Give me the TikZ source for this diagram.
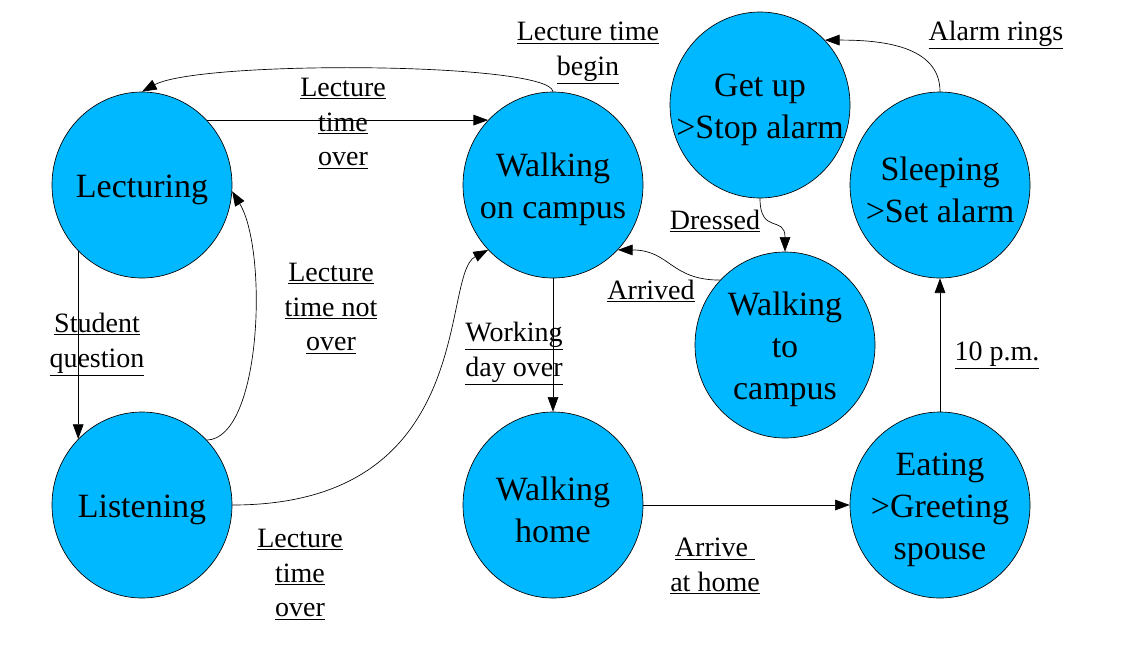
\documentclass[tikz,border=0pt]{standalone}
\usepackage{fontspec}
\setmainfont{Liberation Serif}
\usetikzlibrary{shapes,arrows.meta}
\definecolor{statecyan}{RGB}{0,184,255}

\begin{document}
\begin{tikzpicture}[
  x=0.75pt, y=-0.75pt,
  node distance=308.25pt
]

  \path[use as bounding box] (0,0) rectangle (1123,647);

  \tikzstyle{statenode}=[draw,ellipse,fill=statecyan,line width=0.5pt,minimum width=135pt,minimum height=139.5pt,inner sep=0pt]
  \tikzstyle{statetext}=[align=center,inner sep=0pt,yshift=-3.5pt,font=\fontsize{25.5pt}{31.5pt}\selectfont]
  \tikzstyle{trlab}=[align=center,inner sep=0pt,yshift=-2.5pt,font=\fontsize{21pt}{26pt}\selectfont]
  \tikzstyle{pointer}=[draw,line width=0.5pt,->,>={Triangle[length=11pt,width=8pt]}]

  % states
  \node[statenode] (lect) at (142,185) {};
  \node[statenode] (wcamp) [right of=lect] {};
  \node[statenode,node distance=240pt] (listen) [below of=lect] {};
  \node[statenode,node distance=240pt] (whome) [below of=wcamp] {};
  \node[statenode,node distance=290.25pt] (eat) [right of=whome] {};
  \node[statenode,node distance=240pt] (sleep) [above of=eat] {};
  \node[statenode] (getup) at (760,105) {};
  \node[statenode] (wtocamp) at (785,345) {};

  % state texts
  \node[statetext] (lecttxt) at (lect) {Lecturing};
  \node[statetext] (wcamptxt) at (wcamp) {Walking\\on campus};
  \node[statetext] (listentxt) at (listen) {Listening};
  \node[statetext] (whometxt) at (whome) {Walking\\home};
  \node[statetext] (eattxt) at (eat) {Eating\\>Greeting\\spouse};
  \node[statetext] (sleeptxt) at (sleep) {Sleeping\\>Set alarm};
  \node[statetext] (getuptxt) at (getup) {Get up\\>Stop alarm};
  \node[statetext] (wtocamptxt) at (wtocamp) {Walking\\to\\campus};

  % transitions
  \draw[pointer] (lect.45) -- (wcamp.135);
  \draw[pointer] (wcamp.north) .. controls (550,62) and (200,60) .. (lect.north);
  \draw[pointer] (lect.226) -- (listen.134);
  \draw[pointer] (listen.45) .. controls (262,438) and (268,250) .. (lect.-4);
  \draw[pointer] (listen.east) .. controls (480,505) and (440,275) .. (wcamp.225);
  \draw[pointer] (wcamp.south) -- (whome.north);
  \draw[pointer] (whome.east) -- (eat.west);
  \draw[pointer] (eat.north) -- (sleep.south);
  \draw[pointer] (sleep.north) .. controls (940,45) and (880,40) .. (getup.45);
  \draw[pointer] (getup.south) .. controls (760,235) and (785,215) .. (wtocamp.north);
  \draw[pointer] (wtocamp.135) .. controls (670,280) and (670,250) .. (wcamp.-45);

  % transition labels
  \node[trlab] (begintxt) at (588,50) {\underline{Lecture time}\\\underline{begin}};
  \node[trlab] (overtxt) at (343,120) {\underline{Lecture}\\\underline{time}\\\underline{over}};
  \node[trlab] (notovertxt) at (331,305) {\underline{Lecture}\\\underline{time not}\\\underline{over}};
  \node[trlab] (questtxt) at (97,341) {\underline{Student}\\\underline{question}};
  \node[trlab] (overtxtb) at (300,571) {\underline{Lecture}\\\underline{time}\\\underline{over}};
  \node[trlab] (daytxt) at (514,350) {\underline{Working}\\\underline{day over}};
  \node[trlab] (hometxt) at (715,563) {\underline{Arrive\ }\\\underline{at home}};
  \node[trlab] (pmtxt) at (997,352) {\underline{10 p.m.}};
  \node[trlab] (ringtxt) at (996,32) {\underline{Alarm rings}};
  \node[trlab] (dresstxt) at (715,218) {\underline{Dressed}};
  \node[trlab] (arrivtxt) at (651,288) {\underline{Arrived}};

\end{tikzpicture}
\end{document}
